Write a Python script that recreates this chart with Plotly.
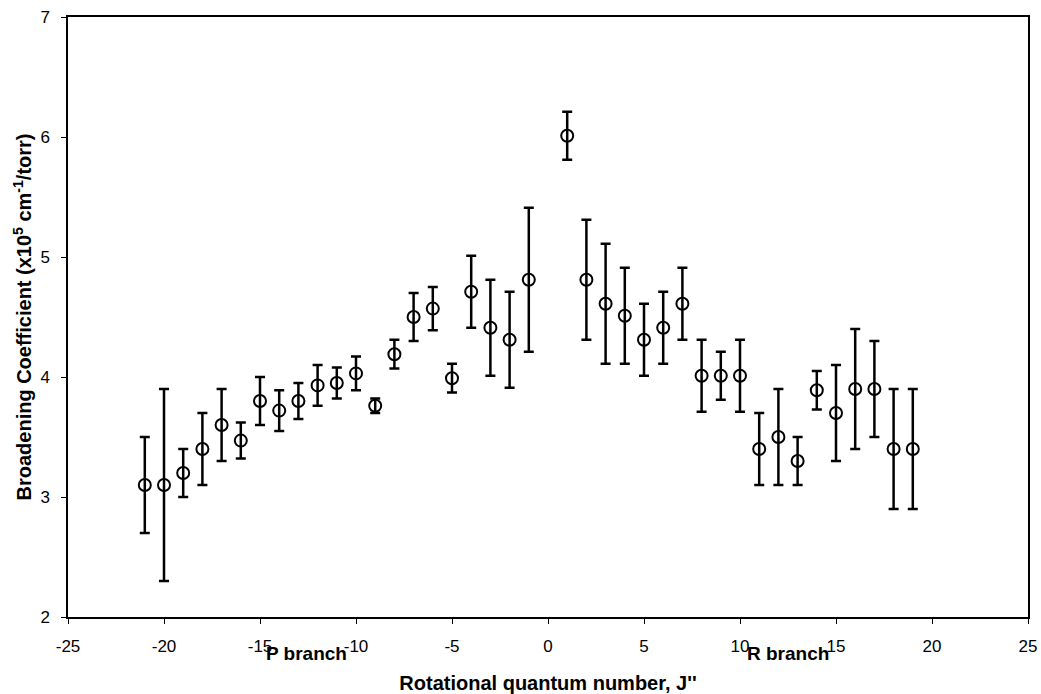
import plotly.graph_objects as go

J = [-21, -20, -19, -18, -17, -16, -15, -14, -13, -12, -11, -10, -9, -8, -7, -6, -5, -4, -3, -2, -1,
     1, 2, 3, 4, 5, 6, 7, 8, 9, 10, 11, 12, 13, 14, 15, 16, 17, 18, 19]
coef = [3.10, 3.10, 3.20, 3.40, 3.60, 3.47, 3.80, 3.72, 3.80, 3.93, 3.95, 4.03, 3.76, 4.19, 4.50, 4.57, 3.99, 4.71, 4.41, 4.31, 4.81,
        6.01, 4.81, 4.61, 4.51, 4.31, 4.41, 4.61, 4.01, 4.01, 4.01, 3.40, 3.50, 3.30, 3.89, 3.70, 3.90, 3.90, 3.40, 3.40]
err = [0.40, 0.80, 0.20, 0.30, 0.30, 0.15, 0.20, 0.17, 0.15, 0.17, 0.13, 0.14, 0.06, 0.12, 0.20, 0.18, 0.12, 0.30, 0.40, 0.40, 0.60,
       0.20, 0.50, 0.50, 0.40, 0.30, 0.30, 0.30, 0.30, 0.20, 0.30, 0.30, 0.40, 0.20, 0.16, 0.40, 0.50, 0.40, 0.50, 0.50]

x_ticks = [-25, -20, -15, -10, -5, 0, 5, 10, 15, 20, 25]
y_ticks = [2, 3, 4, 5, 6, 7]

branch_labels = ["P branch", "R branch"]
branch_pos = [-12.6, 12.5]

FONT = "Liberation Sans, Arial, sans-serif"

fig = go.Figure()
fig.add_trace(go.Scatter(
    x=J, y=coef, mode="markers",
    marker=dict(symbol="circle-open", size=12, color="black", line=dict(width=2, color="black")),
    error_y=dict(type="data", array=err, visible=True, color="black", thickness=2.5, width=5),
    showlegend=False,
))

for lab, pos in zip(branch_labels, branch_pos):
    fig.add_annotation(x=pos, xref="x", y=-0.06, yref="paper", text="<b>" + lab + "</b>",
                       showarrow=False, font=dict(family=FONT, size=19, color="black"),
                       xanchor="center", yanchor="middle")

fig.update_layout(
    width=1041, height=694,
    margin=dict(l=68, r=13, t=17, b=77),
    paper_bgcolor="white", plot_bgcolor="white",
    font=dict(family=FONT, size=17, color="black"),
    xaxis=dict(
        range=[-25, 25], tickvals=x_ticks, ticktext=[str(v) for v in x_ticks],
        showgrid=False, zeroline=False, showline=True, linecolor="black", linewidth=1.5,
        mirror=True, ticks="outside", ticklen=5, tickwidth=1, tickcolor="black",
        ticklabelstandoff=8, automargin=False,
        title=dict(text="<b>Rotational quantum number, J''</b>", font=dict(size=20), standoff=21),
    ),
    yaxis=dict(
        range=[2, 7], tickvals=y_ticks, ticktext=[str(v) for v in y_ticks],
        showgrid=False, zeroline=False, showline=True, linecolor="black", linewidth=1.5,
        mirror=True, ticks="outside", ticklen=5, tickwidth=1, tickcolor="black",
        ticklabelstandoff=8, automargin=False,
        title=dict(text="<b>Broadening Coefficient (x10<sup>5</sup> cm<sup>-1</sup>/torr)</b>", font=dict(size=20), standoff=3),
    ),
)

fig.write_html("out.html")
